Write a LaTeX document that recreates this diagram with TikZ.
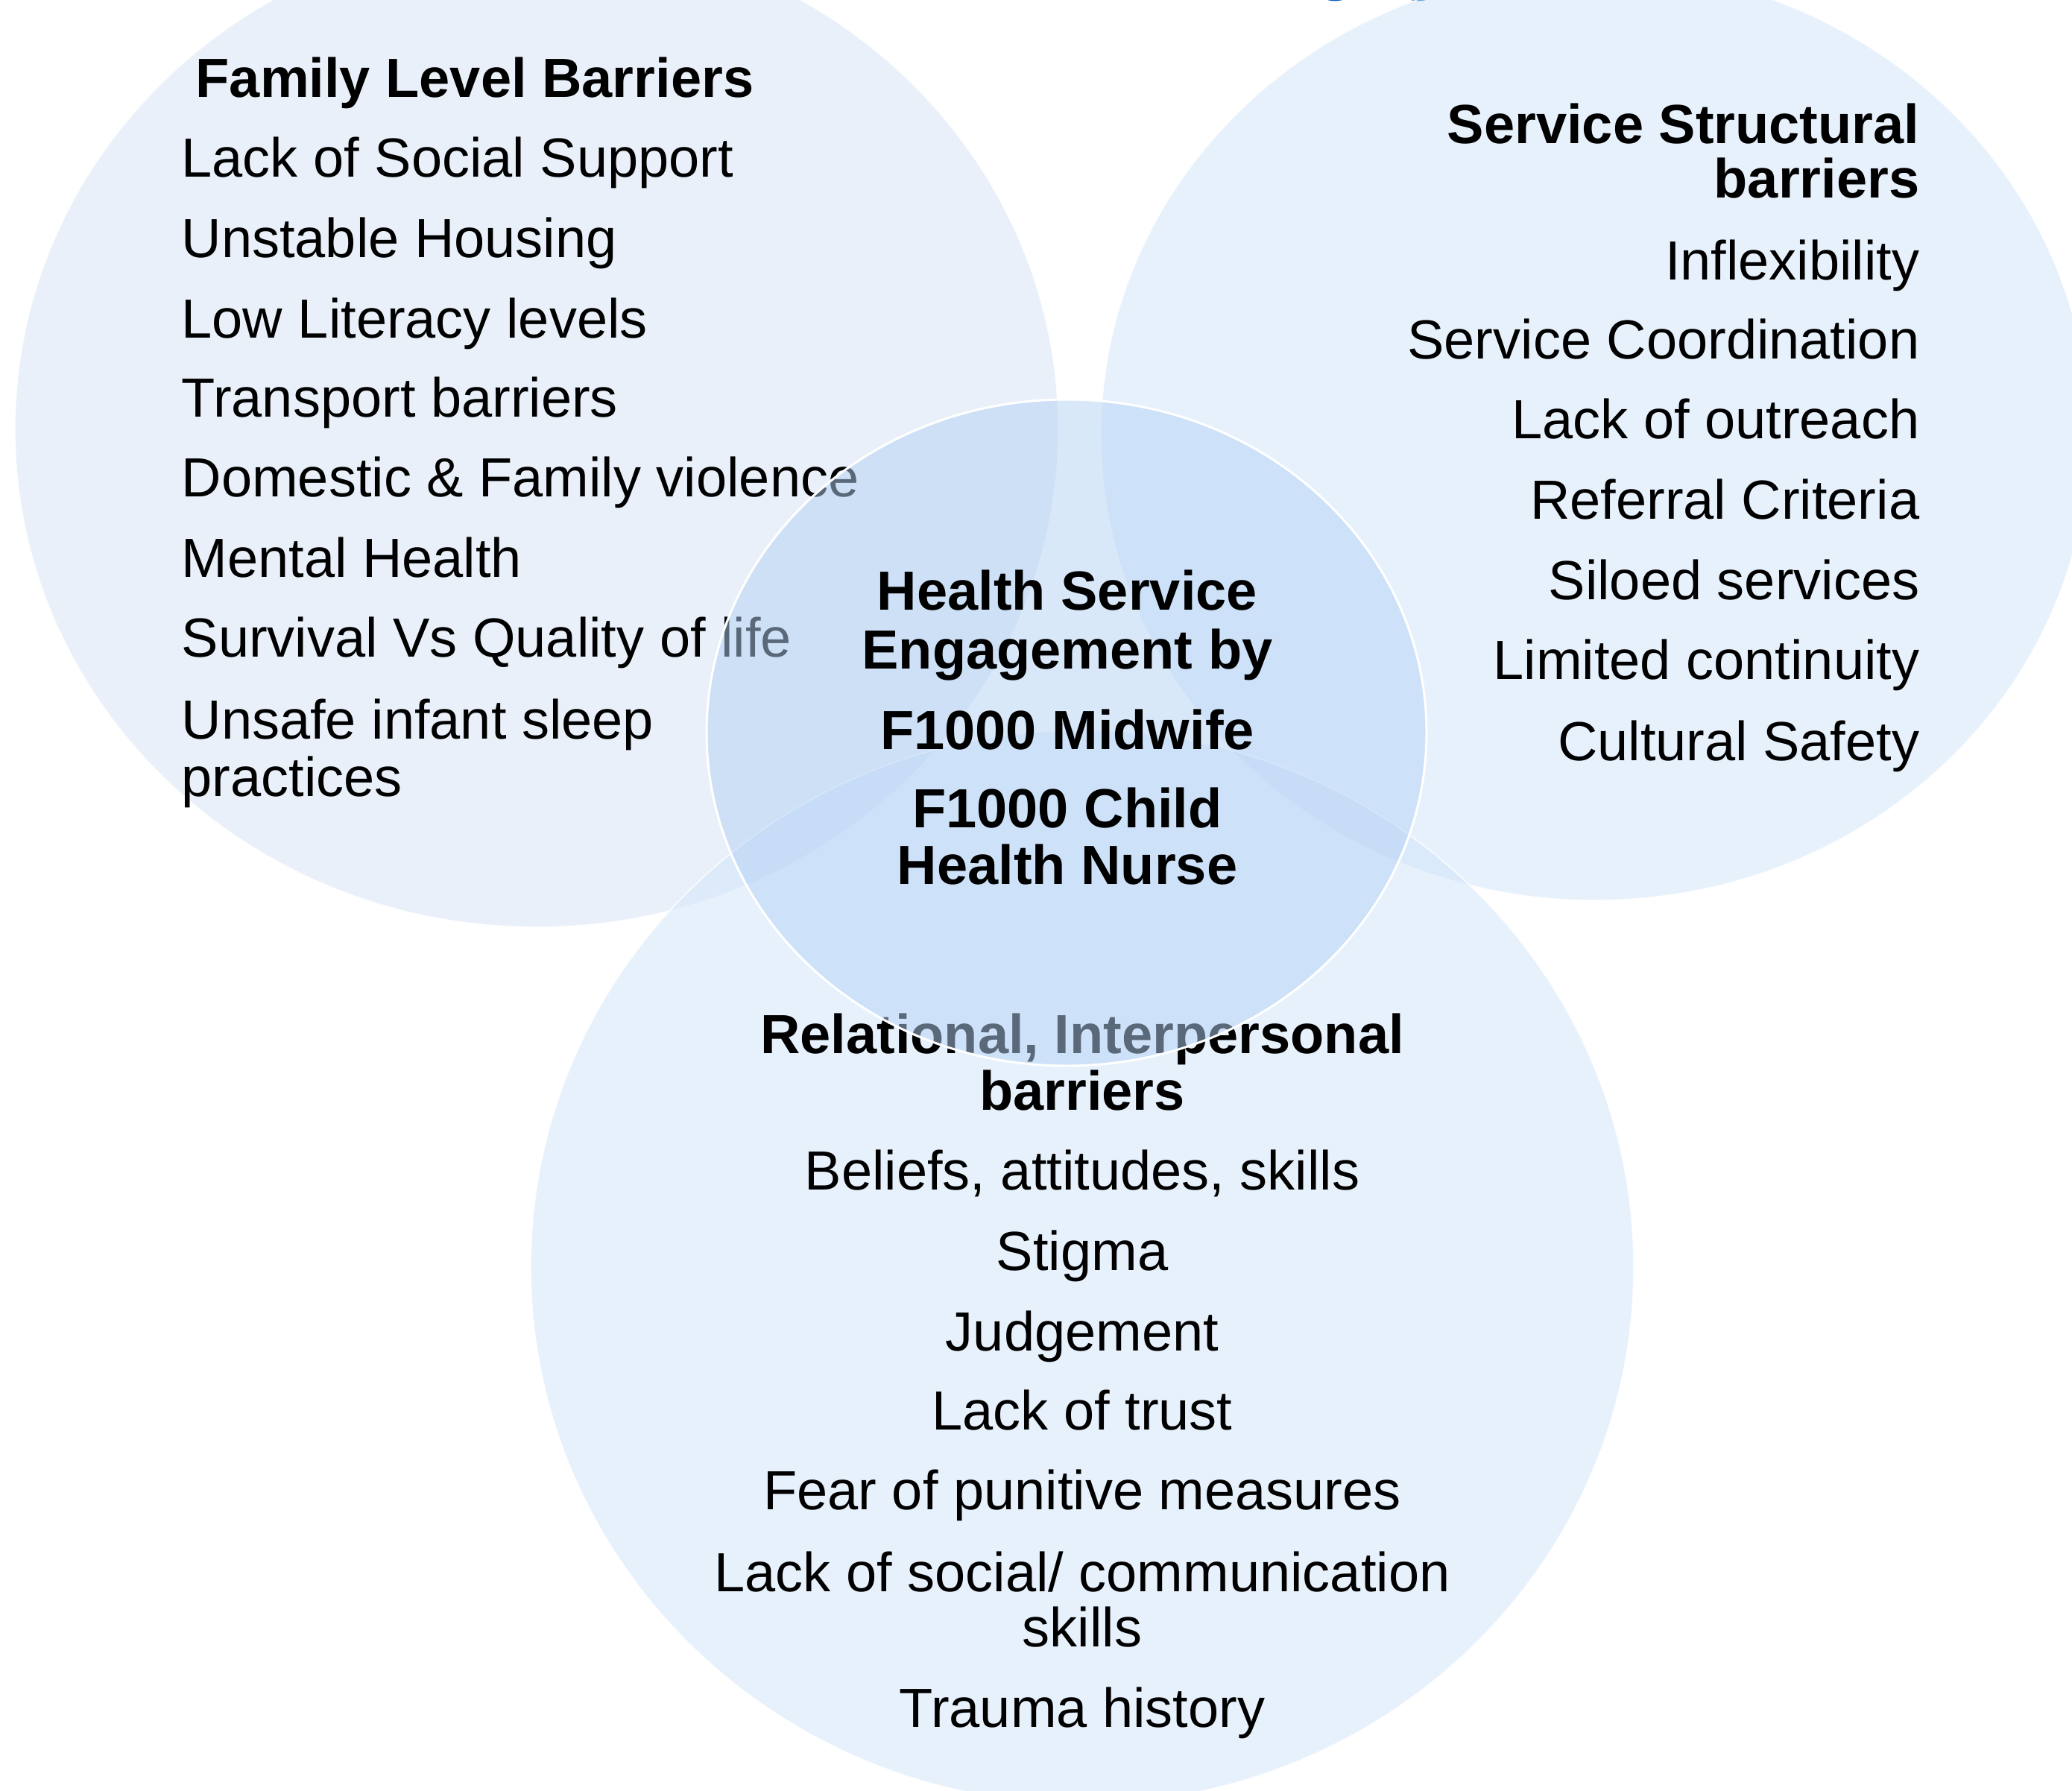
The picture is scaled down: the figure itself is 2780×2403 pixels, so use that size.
\documentclass[tikz,border=0pt]{standalone}
\usepackage{fontspec}
\setmainfont{Liberation Sans}
\definecolor{outerL}{HTML}{D5E3F5}
\definecolor{outerR}{HTML}{D1E5FB}
\definecolor{innerC}{HTML}{B4D2F5}
\definecolor{titleblue}{HTML}{0B5FC0}
\begin{document}
\begin{tikzpicture}[x=0.3pt,y=-0.3pt,
  item/.style={inner sep=0pt, font=\fontsize{22.2}{22.8}\selectfont, text=black},
  head/.style={inner sep=0pt, font=\fontsize{22.2}{22.8}\selectfont\bfseries, text=black},
  outerset/.style={draw=white, line width=0.5pt, fill opacity=0.5, draw opacity=0.8},
  centerset/.style={draw=white, line width=0.9pt, fill=innerC, fill opacity=0.5}]
\useasboundingbox (0,0) rectangle (2780,2403);
\clip (0,0) rectangle (2780,2403);
\fill[white] (0,0) rectangle (2780,2403);

% partially visible title (only its descenders show)
\node[inner sep=0pt, anchor=base west, text=titleblue, font=\fontsize{28.8}{30}\selectfont\bfseries] (title) at (1640,-18) {Engagement};

% outer circles
\draw[outerset, fill=outerL] (720,576) ellipse [x radius=210pt, y radius=200.4pt];
\draw[outerset, fill=outerR] (2140,583) ellipse [x radius=198.9pt, y radius=187.5pt];
\draw[outerset, fill=outerR] (1452,1700) ellipse [x radius=222pt, y radius=216pt];

% family level barriers
\node[head, anchor=base west] (fh) at (262,131) {Family Level Barriers};
\node[item, anchor=base west] (f1) at (243,238) {Lack of Social Support};
\node[item, anchor=base west] (f2) at (243,346) {Unstable Housing};
\node[item, anchor=base west] (f3) at (243,454) {Low Literacy levels};
\node[item, anchor=base west] (f4) at (243,560) {Transport barriers};
\node[item, anchor=base west] (f5) at (243,667) {Domestic \& Family violence};
\node[item, anchor=base west] (f6) at (243,775) {Mental Health};
\node[item, anchor=base west] (f7) at (243,881) {Survival Vs Quality of life};
\node[item, anchor=base west] (f8a) at (243,991) {Unsafe infant sleep};
\node[item, anchor=base west] (f8b) at (243,1068) {practices};

% service structural barriers
\node[head, anchor=base east] (sh1) at (2576,193) {Service Structural};
\node[head, anchor=base east] (sh2) at (2576,266) {barriers};
\node[item, anchor=base east] (s1) at (2576,376) {Inflexibility};
\node[item, anchor=base east] (s2) at (2576,482) {Service Coordination};
\node[item, anchor=base east] (s3) at (2576,589) {Lack of outreach};
\node[item, anchor=base east] (s4) at (2576,697) {Referral Criteria};
\node[item, anchor=base east] (s5) at (2576,805) {Siloed services};
\node[item, anchor=base east] (s6) at (2576,911) {Limited continuity};
\node[item, anchor=base east] (s7) at (2576,1020) {Cultural Safety};

% relational barriers
\node[head, anchor=base] (rh1) at (1452,1413) {Relational, Interpersonal};
\node[head, anchor=base] (rh2) at (1452,1489) {barriers};
\node[item, anchor=base] (r1) at (1452,1596) {Beliefs, attitudes, skills};
\node[item, anchor=base] (r2) at (1452,1704) {Stigma};
\node[item, anchor=base] (r3) at (1452,1812) {Judgement};
\node[item, anchor=base] (r4) at (1452,1918) {Lack of trust};
\node[item, anchor=base] (r5) at (1452,2025) {Fear of punitive measures};
\node[item, anchor=base] (r6a) at (1452,2135) {Lack of social/ communication};
\node[item, anchor=base] (r6b) at (1452,2209) {skills};
\node[item, anchor=base] (r7) at (1452,2317) {Trauma history};

% centre ellipse over everything
\draw[centerset] (1431,983) ellipse [x radius=144.9pt, y radius=134.1pt];

\node[head, anchor=base] (c1) at (1432,818) {Health Service};
\node[head, anchor=base] (c2) at (1432,897) {Engagement by};
\node[head, anchor=base] (c3) at (1432,1005) {F1000 Midwife};
\node[head, anchor=base] (c4) at (1432,1110) {F1000 Child};
\node[head, anchor=base] (c5) at (1432,1186) {Health Nurse};
\end{tikzpicture}
\end{document}
